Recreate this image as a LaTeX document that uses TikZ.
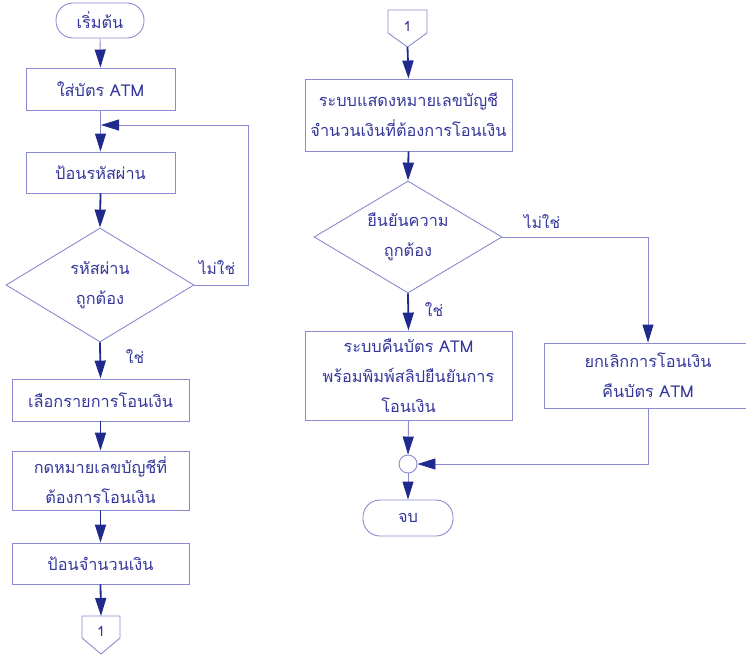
\documentclass[tikz,border=0pt]{standalone}
\usepackage{fontspec}
\newfontfamily\thaifont[Script=Thai]{Loma}
\usetikzlibrary{arrows.meta,shapes.geometric}
\definecolor{ln}{HTML}{8A8AD0}
\definecolor{nv}{HTML}{1F2A8C}
\definecolor{tx}{HTML}{35379A}
\tikzset{
  base/.style={draw=ln, line width=0.9pt, inner sep=0pt, align=center, text=tx,
    font=\thaifont\fontsize{16.3}{30}\selectfont},
  box/.style={base, rectangle},
  term/.style={base, rectangle, rounded corners=17pt},
  dec/.style={base, diamond, inner sep=-25pt},
  joint/.style={draw=ln, line width=0.9pt, circle, minimum size=18pt, inner sep=0pt, fill=white},
  lbl/.style={text=tx, font=\thaifont\fontsize{15.5}{18}\selectfont, inner sep=0pt},
  thinarr/.style={draw=ln, line width=0.9pt, -{Triangle[length=18pt,width=11pt,color=nv]}},
  darkarr/.style={draw=nv, line width=1.8pt, -{Triangle[length=18pt,width=11pt,color=nv]}},
  thinline/.style={draw=ln, line width=0.9pt},
}
\begin{document}
\begin{tikzpicture}[x=1pt,y=-1pt]
\useasboundingbox (0,0) rectangle (746,656);
% left column
\node[term, minimum width=88pt, minimum height=35pt] (start) at (100,20.5) {เริ่มต้น};
\node[box, minimum width=149pt, minimum height=42pt] (b1) at (100.5,89) {ใส่บัตร ATM};
\node[box, minimum width=149pt, minimum height=41pt] (b2) at (100.5,172.5) {ป้อนรหัสผ่าน};
\node[dec, minimum width=188pt, minimum height=114pt] (d1) at (100,285) {รหัสผ่าน\\ถูกต้อง};
\node[box, minimum width=177pt, minimum height=42pt] (b3) at (100.5,400) {เลือกรายการโอนเงิน};
\node[box, minimum width=177pt, minimum height=59pt] (b4) at (100.5,480.5) {กดหมายเลขบัญชีที่\\ต้องการโอนเงิน};
\node[box, minimum width=177pt, minimum height=41pt] (b5) at (100.5,563.5) {ป้อนจำนวนเงิน};
% off-page connector 1 (left)
\draw[thinline, fill=white] (82,616) -- (120,616) -- (120,638) -- (101,654) -- (82,638) -- cycle;
\node[lbl, font=\thaifont\fontsize{14}{16}\selectfont] (c1) at (101,631) {1};
\coordinate (c1top) at (101,616);
% loop coordinates
\coordinate (lpa) at (248,285);
\coordinate (lpb) at (248,125);
\coordinate (lpc) at (101,125);
% right column
\draw[thinline, fill=white] (388,10) -- (427,10) -- (427,33) -- (407.5,47) -- (388,33) -- cycle;
\node[lbl, font=\thaifont\fontsize{14}{16}\selectfont] (c2) at (407.5,26) {1};
\coordinate (c2tip) at (407.5,47);
\node[box, minimum width=207pt, minimum height=72pt] (r1) at (408.5,115) {ระบบแสดงหมายเลขบัญชี\\จำนวนเงินที่ต้องการโอนเงิน};
\node[dec, minimum width=188pt, minimum height=112pt] (d2) at (408,237) {ยืนยันความ\\ถูกต้อง};
\node[box, minimum width=207pt, minimum height=89pt] (r2) at (408.5,375.5) {ระบบคืนบัตร ATM\\พร้อมพิมพ์สลิปยืนยันการ\\โอนเงิน};
\node[box, minimum width=208pt, minimum height=65pt] (r3) at (648,375.5) {ยกเลิกการโอนเงิน\\คืนบัตร ATM};
\node[joint] (j) at (408,464) {};
\node[term, minimum width=90pt, minimum height=36pt] (end) at (408,518) {จบ};
\coordinate (ra) at (648,237);
\coordinate (rb) at (648,464);
% labels
\node[lbl] (no1) at (217,268) {ไม่ใช่};
\node[lbl] (yes1) at (135,357) {ใช่};
\node[lbl] (no2) at (542,222) {ไม่ใช่};
\node[lbl] (yes2) at (434,310) {ใช่};
% connectors
\draw[thinarr] (start.south) -- (b1.north);
\draw[thinarr] (b1.south) -- (b2.north);
\draw[thinarr] (d1.east) -- (lpa) -- (lpb) -- (lpc);
\draw[darkarr] (b2.south) -- (d1.north);
\draw[darkarr] (d1.south) -- (b3.north);
\draw[darkarr] (b3.south) -- (b4.north);
\draw[darkarr] (b4.south) -- (b5.north);
\draw[darkarr] (b5.south) -- (c1top);
\draw[darkarr] (c2tip) -- (r1.north);
\draw[darkarr] (r1.south) -- (d2.north);
\draw[darkarr] (d2.south) -- (r2.north);
\draw[thinarr] (d2.east) -- (ra) -- (r3.north);
\draw[thinarr] (r3.south) -- (rb) -- (j.east);
\draw[thinarr] (r2.south) -- (j.north);
\draw[thinarr] (j.south) -- (end.north);
\end{tikzpicture}
\end{document}
